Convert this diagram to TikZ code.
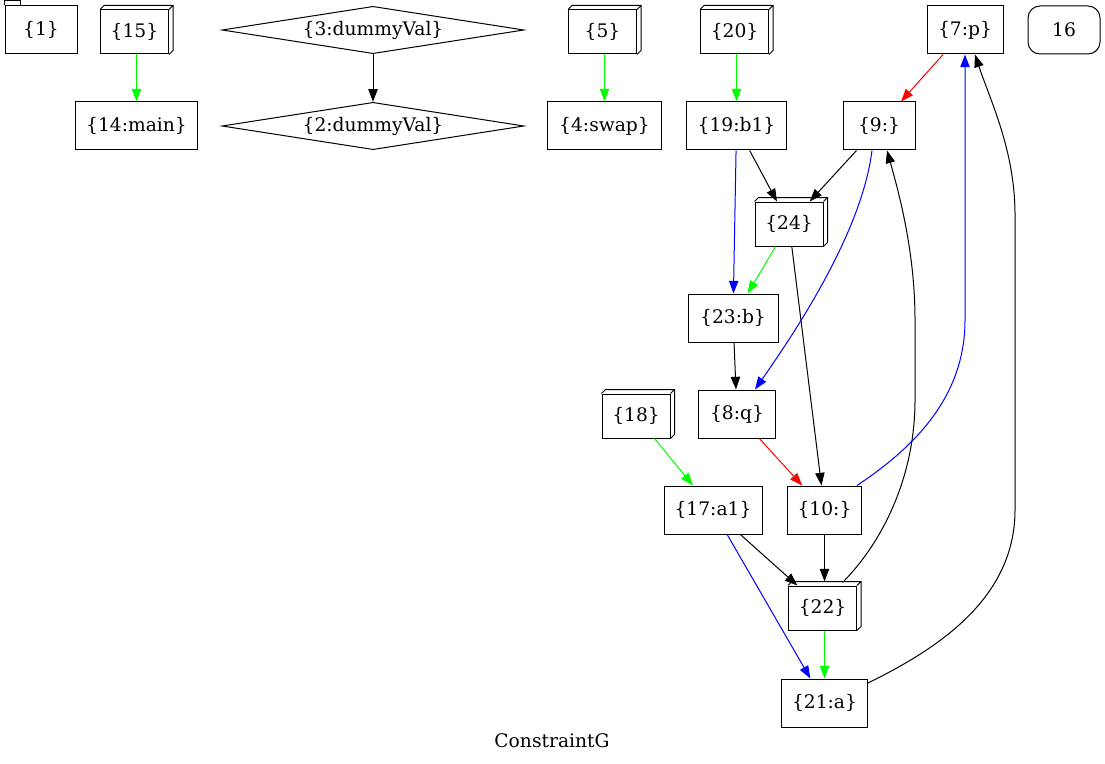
\documentclass[tikz,border=0pt]{standalone}
\usepackage{fontspec}
\setmainfont{DejaVu Serif}
\usetikzlibrary{arrows.meta,calc,shapes.geometric}
\newcommand\gvthreed[1]{\draw[line width=0.75pt] (#1.north west) -- ++(4,-4) -- ($(#1.north east)+(4,-4)$) -- ($(#1.south east)+(4,-4)$) -- (#1.south east) (#1.north east) -- ++(4,-4);}
\tikzset{
  base/.style={draw, line width=0.75pt, inner sep=0pt, font=\fontsize{14}{16}\selectfont, minimum height=36pt},
  box/.style={base, rectangle},
  boxthreed/.style={base, rectangle, minimum height=33pt},
  rbox/.style={base, rectangle, rounded corners=9pt},
  dia/.style={base, diamond, aspect=6.3, minimum width=226.5pt, minimum height=35.5pt},
  edge/.style={line width=0.75pt, -{Triangle[length=9.5pt,width=7pt]}},
  gr/.style={edge, draw={rgb,255:red,0;green,255;blue,0}},
  bl/.style={edge, draw=blue},
  rd/.style={edge, draw=red},
  bk/.style={edge, draw=black},
}
\begin{document}
\begin{tikzpicture}[x=0.75pt,y=-0.75pt]
\useasboundingbox (0,0) rectangle (1105,763);
% top row
\node[box, minimum width=0.75*72pt] (n1) at (41,30) {\{1\}};
\draw[line width=0.75pt] ($(n1.north west)$) -- ++(0,-5) -- ++(16,0) -- ++(0,5);
\node[boxthreed, minimum width=0.75*68pt] (n15) at (134.5,32) {\{15\}};
\gvthreed{n15}
\node[dia] (n3) at (373,30) {\{3:dummyVal\}};
\node[boxthreed, minimum width=0.75*68pt] (n5) at (602.5,32) {\{5\}};
\gvthreed{n5}
\node[boxthreed, minimum width=0.75*68pt] (n20) at (734.5,32) {\{20\}};
\gvthreed{n20}
\node[box, minimum width=0.75*76pt] (n7) at (965,30) {\{7:p\}};
\node[rbox, minimum width=0.75*72pt] (n16) at (1064,30) {16};
% second row
\node[box, minimum width=0.75*122pt] (n14) at (136.5,126) {\{14:main\}};
\node[dia] (n2) at (373,126) {\{2:dummyVal\}};
\node[box, minimum width=0.75*114pt] (n4) at (604.5,126) {\{4:swap\}};
\node[box, minimum width=0.75*100pt] (n19) at (736.5,126) {\{19:b1\}};
\node[box, minimum width=0.75*72pt] (n9) at (879,126) {\{9:\}};
% lower
\node[boxthreed, minimum width=0.75*68pt] (n24) at (789,224) {\{24\}};
\gvthreed{n24}
\node[box, minimum width=0.75*90pt] (n23) at (733,318) {\{23:b\}};
\node[box, minimum width=0.75*77pt] (n8) at (737,414) {\{8:q\}};
\node[boxthreed, minimum width=0.75*68pt] (n18) at (636,416) {\{18\}};
\gvthreed{n18}
\node[box, minimum width=0.75*98pt] (n17) at (713,510) {\{17:a1\}};
\node[box, minimum width=0.75*74pt] (n10) at (824.5,510) {\{10:\}};
\node[boxthreed, minimum width=0.75*68pt] (n22) at (822.5,608) {\{22\}};
\gvthreed{n22}
\node[box, minimum width=0.75*86pt] (n21) at (824.5,703) {\{21:a\}};
\node[font=\fontsize{14}{16}\selectfont, inner sep=0pt] (lbl) at (552,741) {ConstraintG};
% edges
\draw[gr] ($(n15.south)+(2,0)$) -- (n14.north);
\draw[bk] (n3) -- (n2);
\draw[gr] ($(n5.south)+(2,0)$) -- (n4.north);
\draw[gr] ($(n20.south)+(2,0)$) -- (n19.north);
\draw[rd] (n7) -- (n9);
\draw[bk] (n9) -- (n24);
\draw[bk] (n19) -- (n24);
\draw[bl] (n19) -- (n23);
\draw[gr] (n24) -- (n23);
\draw[bk] (n23) -- (n8);
\draw[bk] (n24) -- (n10);
\draw[rd] (n8) -- (n10);
\draw[gr] (n18) -- (n17);
\draw[bk] (n17) -- (n22);
\draw[bl] (n17) -- (n21);
\draw[bk] (n10.south) -- ($(n22.north)+(2,-4)$);
\draw[gr] ($(n22.south)+(2,0)$) -- (n21.north);
\draw[bl] ($(n9.south)+(-7,0)$) .. controls (862,230) and (800,325) .. ($(n8.north)+(18,0)$);
\draw[bl] ($(n10.north east)+(-5,0)$) .. controls (910,450) and (965,400) .. (965,320) -- (n7.south);
\draw[bk] ($(n22.north)+(20,-3)$) .. controls (880,545) and (915,480) .. (915,400) -- (915,320) .. controls (915,250) and (898,190) .. ($(n9.south)+(8,0)$);
\draw[bk] ($(n21.east)+(0,-20)$) .. controls (935,650) and (1015,600) .. (1015,510) -- (1015,215) .. controls (1015,150) and (990,100) .. ($(n7.south)+(10,0)$);
\end{tikzpicture}
\end{document}
